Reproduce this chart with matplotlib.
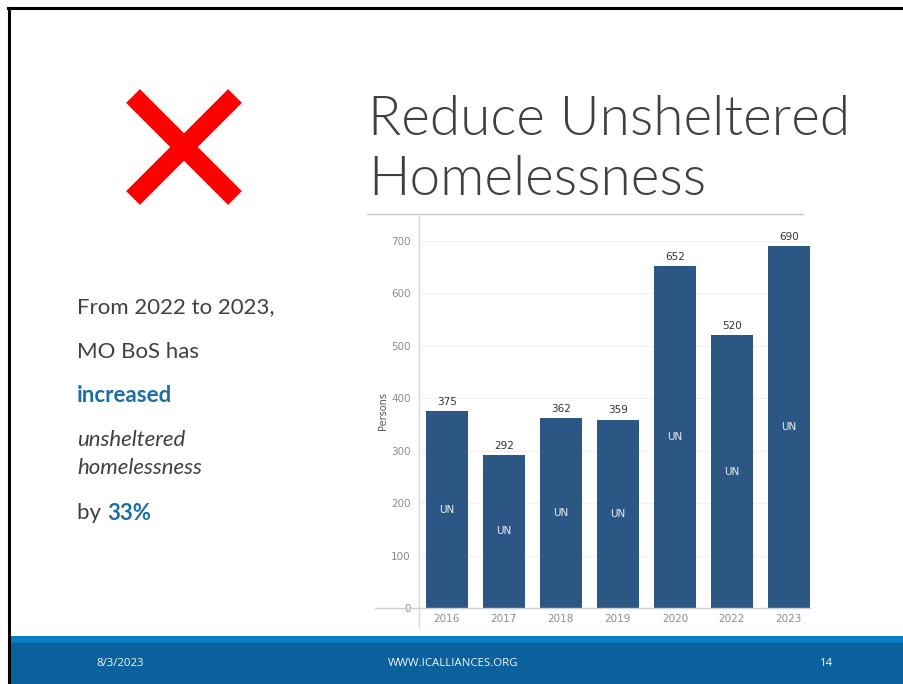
import matplotlib
matplotlib.use("Agg")
import matplotlib.pyplot as plt
from matplotlib.lines import Line2D
from matplotlib.patches import Rectangle

# Unsheltered persons by count year
years = ["2016", "2017", "2018", "2019", "2020", "2022", "2023"]
persons = [375, 292, 362, 359, 652, 520, 690]
yticks = [0, 100, 200, 300, 400, 500, 600, 700]

W, H = 904, 684
fig = plt.figure(figsize=(W / 100, H / 100), dpi=100)


def fx(x):
    return x / W


def fy(y):
    return 1 - y / H


def fline(xs, ys, **kw):
    fig.add_artist(Line2D([fx(x) for x in xs], [fy(y) for y in ys],
                          transform=fig.transFigure, **kw))


dark = "#404040"
blue = "#1b6ea8"
bar_color = "#2c5784"

# slide frame
fline([8, 904], [8, 8], color="black", lw=2.2)
fline([9, 9], [8, 684], color="black", lw=2.2)

# footer bands
fig.add_artist(Rectangle((fx(10), fy(643)), 1, (643 - 636) / H,
                         transform=fig.transFigure, color="#0b7cc1", lw=0))
fig.add_artist(Rectangle((fx(10), 0), 1, (684 - 643) / H,
                         transform=fig.transFigure, color="#0a619c", lw=0))
for fxp, txt in [(120, "8/3/2023"), (453, "WWW.ICALLIANCES.ORG"), (827, "14")]:
    fig.text(fx(fxp), fy(664), txt, color="#f2f6fa", fontsize=8.2,
             ha="center", va="center", family="Open Sans")

# red cross
fline([133, 235], [96, 198], color="#ff0000", lw=14, solid_capstyle="butt")
fline([133, 235], [198, 96], color="#ff0000", lw=14, solid_capstyle="butt")

# title
for yb, line in [(135, "Reduce Unsheltered"), (195, "Homelessness")]:
    fig.text(fx(368), fy(yb), line, color=dark, fontsize=39.5,
             family="Lato", weight=300, ha="left", va="baseline")

# left-hand summary text
fs = 16
fig.text(fx(77), fy(307), "From 2022 to 2023,", color=dark, fontsize=fs,
         family="Lato", va="center")
fig.text(fx(77), fy(352), "MO BoS has", color=dark, fontsize=fs,
         family="Lato", va="center")
fig.text(fx(77), fy(395), "increased", color=blue, fontsize=fs,
         family="Lato", weight="bold", va="center")
fig.text(fx(77), fy(440), "unsheltered", color=dark, fontsize=fs,
         family="Lato", style="italic", va="center")
fig.text(fx(77), fy(468), "homelessness", color=dark, fontsize=fs,
         family="Lato", style="italic", va="center")
t = fig.text(fx(77), fy(513), "by ", color=dark, fontsize=fs,
             family="Lato", va="center")
fig.canvas.draw()
bb = t.get_window_extent()
fig.text(bb.x1 / W, fy(513), "33%", color=blue, fontsize=fs,
         family="Lato", weight="bold", va="center")

# chart
ax = fig.add_axes([fx(419), fy(608), (810 - 419) / W, (608 - 214) / H])
x = range(len(years))
ax.bar(x, persons, width=0.75, color=bar_color, zorder=3)
ax.set_xlim(-0.49, 6.37)
ax.set_ylim(0, 751)
ax.set_yticks(yticks)
ax.set_xticks(list(x))
ax.set_xticklabels(years)
ax.tick_params(axis="both", length=0, labelsize=7.5, labelcolor="#8c8c8c",
               pad=4)
ax.tick_params(axis="y", pad=6)
for s in ax.spines.values():
    s.set_visible(False)
ax.grid(axis="y", color="#f1f1f1", lw=0.8, zorder=0)
ax.set_ylabel("Persons", fontsize=7, color="#555555", labelpad=2)

for xi, v in zip(x, persons):
    ax.text(xi, v + 8, str(v), ha="center", va="bottom", fontsize=7.5,
            color="#333333")
    ax.text(xi, v / 2, "UN", ha="center", va="center", fontsize=7.5,
            color="#e8eef5")

# chart frame lines
fline([367, 803], [214, 214], color="#c8c8c8", lw=1)
fline([419, 419], [214, 628], color="#d9d9d9", lw=1)
fline([375, 810], [608, 608], color="#d0d0d0", lw=1)

fig.savefig("out.png", dpi=100)
